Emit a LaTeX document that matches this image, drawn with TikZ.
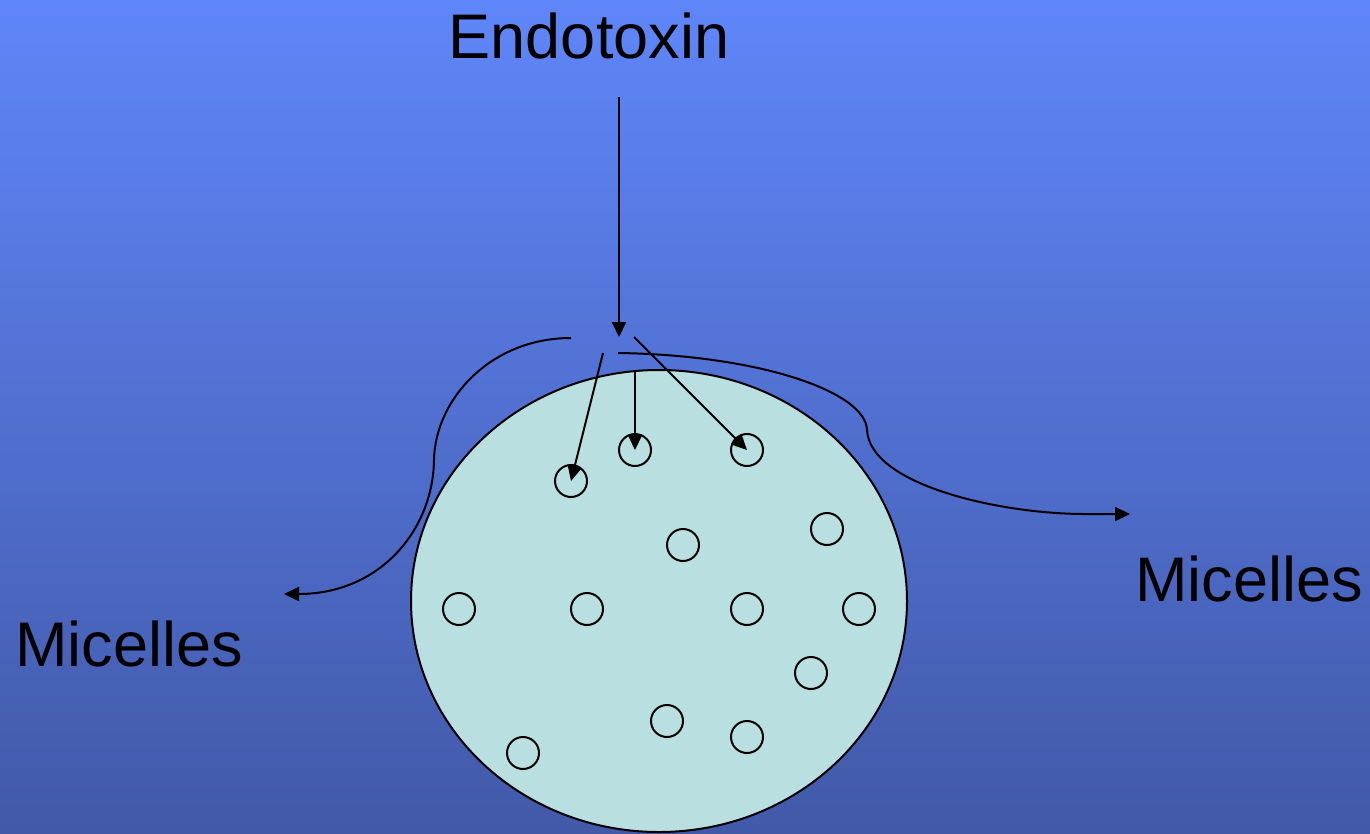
\documentclass[tikz,border=0pt]{standalone}
\usepackage{fontspec}
\setmainfont{Liberation Sans}
\usetikzlibrary{arrows.meta}
\definecolor{bgtop}{RGB}{95,134,249}
\definecolor{bgbot}{RGB}{66,89,168}
\definecolor{cellfill}{RGB}{185,223,225}
\begin{document}
\begin{tikzpicture}[x=1pt,y=-1pt,
  line/.style={line width=2pt,black},
  arr/.style={line, -{Triangle[length=15pt,width=14pt]}},
  mic/.style={circle,draw,line width=2pt,minimum size=32pt,inner sep=0pt},
  lbl/.style={font=\fontsize{63}{63}\selectfont,inner sep=0pt}]
\shade[top color=bgtop,bottom color=bgbot] (0,0) rectangle (1370,833);
\useasboundingbox (0,0) rectangle (1370,833);
% cell
\draw[line,fill=cellfill] (659,601) ellipse [x radius=248,y radius=231];
% micelles
\foreach \n/\x/\y in {m1/571/481,m2/635/450,m3/747/450,m4/827/529,m5/683/545,
  m6/459/609,m7/587/609,m8/747/609,m9/859/609,m10/811/673,m11/667/721,m12/747/737,m13/523/753}
  \node[mic] (\n) at (\x,\y) {};
% labels
\node[lbl,anchor=base] (endo) at (589,58) {Endotoxin};
\node[lbl,anchor=base west] (micR) at (1135,601) {Micelles};
\node[lbl,anchor=base west] (micL) at (15,666) {Micelles};
% coordinates
\coordinate (etop) at (619,97);
\coordinate (etip) at (619,337);
\coordinate (s1) at (603,353);
\coordinate (s2) at (635,370);
\coordinate (s3) at (634,337);
\coordinate (lstart) at (571,338);
\coordinate (lend) at (284,594);
\coordinate (rstart) at (618,353);
\coordinate (rend) at (1130,514);
% arrows
\draw[arr] (etop) -- (etip);
\draw[arr] (s1) -- (m1.center);
\draw[arr] (s2) -- (m2.center);
\draw[arr] (s3) -- (m3.center);
\draw[arr] (lstart) .. controls (490,338) and (435,400) .. (434,460)
  .. controls (433,530) and (380,594) .. (lend);
\draw[arr] (rstart) .. controls (760,355) and (866,392) .. (867,430)
  .. controls (870,485) and (1000,514) .. (1085,514) -- (rend);
\end{tikzpicture}
\end{document}
